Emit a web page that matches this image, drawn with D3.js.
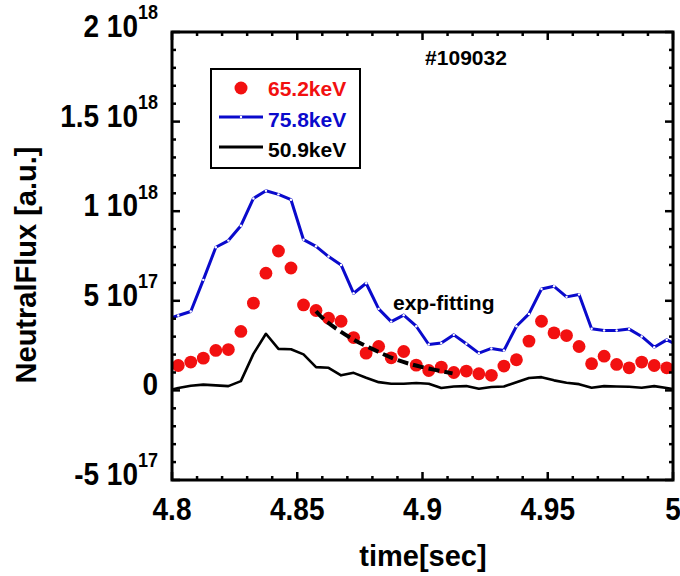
<!DOCTYPE html>
<html>
<head>
<meta charset="utf-8">
<script src="https://cdn.jsdelivr.net/npm/d3@7"></script>
<style>
  body { margin: 0; background: #fff; }
  text { font-family: "Liberation Sans", Arial, sans-serif; font-weight: bold; }
</style>
</head>
<body>
<div id="chart"></div>
<script>
// values in units of 1e17
var time = [4.7975, 4.8025, 4.8075, 4.8125, 4.8175, 4.8225, 4.8275, 4.8325, 4.8375, 4.8425,
            4.8475, 4.8525, 4.8575, 4.8625, 4.8675, 4.8725, 4.8775, 4.8825, 4.8875, 4.8925,
            4.8975, 4.9025, 4.9075, 4.9125, 4.9175, 4.9225, 4.9275, 4.9325, 4.9375, 4.9425,
            4.9475, 4.9525, 4.9575, 4.9625, 4.9675, 4.9725, 4.9775, 4.9825, 4.9875, 4.9925,
            4.9975, 5.0025];
var flux652 = [null, 1.39, 1.58, 1.80, 2.23, 2.28, 3.29, 4.87, 6.54, 7.78,
               6.83, 4.77, 4.46, 4.03, 3.86, 2.95, 2.08, 2.45, 1.82, 2.17,
               1.41, 1.11, 1.30, 1.00, 1.08, 0.93, 0.84, 1.36, 1.71, 2.75,
               3.86, 3.21, 3.06, 2.45, 1.49, 1.91, 1.45, 1.26, 1.58, 1.39,
               1.26, null];
var flux758 = [3.95, 4.18, 4.40, 6.17, 7.99, 8.36, 9.19, 10.71, 11.14, 10.94,
               10.64, 8.41, 8.04, 7.47, 7.00, 5.42, 5.98, 4.55, 3.84, 4.20,
               3.58, 2.56, 2.64, 3.10, 2.60, 2.08, 2.34, 2.23, 3.58, 4.27,
               5.66, 5.81, 5.22, 5.35, 3.44, 3.34, 3.34, 3.42, 3.01, 2.41,
               2.82, 2.48];
var flux509 = [-0.05, 0.13, 0.26, 0.32, 0.28, 0.24, 0.52, 2.04, 3.16, 2.32,
               2.30, 2.01, 1.30, 1.26, 0.84, 0.98, 0.71, 0.46, 0.37, 0.37,
               0.41, 0.37, 0.13, 0.22, 0.24, 0.09, 0.19, 0.22, 0.46, 0.69,
               0.74, 0.56, 0.43, 0.35, 0.15, 0.24, 0.22, 0.20, 0.15, 0.24,
               0.13, 0.02];
var fitTime = [4.8575, 4.8612, 4.8719, 4.8812, 4.8905, 4.8999, 4.912];
var fitFlux = [4.42, 3.90, 2.88, 2.23, 1.67, 1.30, 0.95];

var xTicks = [4.8, 4.85, 4.9, 4.95, 5];
var xTickLabels = ["4.8", "4.85", "4.9", "4.95", "5"];
var yTicks = [-5, 0, 5, 10, 15, 20];
var yTickMain = ["-5 10", "0", "5 10", "1 10", "1.5 10", "2 10"];
var yTickExp = ["17", "", "17", "18", "18", "18"];
var legendNames = ["65.2keV", "75.8keV", "50.9keV"];

var W = 680, H = 576;
var pL = 172, pR = 673, pT = 32, pB = 480;
var red = "#f21010", blue = "#0a0acc";

var svg = d3.select("#chart").append("svg")
    .attr("width", W).attr("height", H);

var x = d3.scaleLinear().domain([4.8, 5]).range([pL, pR]);
var y = d3.scaleLinear().domain([-5, 20]).range([pB, pT]);

svg.append("clipPath").attr("id", "plotclip")
  .append("rect")
    .attr("x", pL).attr("y", pT)
    .attr("width", pR - pL).attr("height", pB - pT);

var plot = svg.append("g").attr("clip-path", "url(#plotclip)");

var pts = function(vals) {
    return time.map(function(t, i) { return [t, vals[i]]; });
};
var line = d3.line()
    .defined(function(d) { return d[1] != null; })
    .x(function(d) { return x(d[0]); })
    .y(function(d) { return y(d[1]); });

// blue with tiny open markers
plot.append("path").datum(pts(flux758))
    .attr("d", line).attr("fill", "none")
    .attr("stroke", blue).attr("stroke-width", 3).attr("stroke-linejoin", "round");
plot.selectAll(".bm").data(pts(flux758)).enter()
  .append("circle").attr("class", "bm")
    .attr("cx", function(d) { return x(d[0]); })
    .attr("cy", function(d) { return y(d[1]); })
    .attr("r", 1.2).attr("fill", "#fff").attr("stroke", "none");

plot.append("path").datum(pts(flux509))
    .attr("d", line).attr("fill", "none")
    .attr("stroke", "#000").attr("stroke-width", 2.6).attr("stroke-linejoin", "round");

plot.selectAll(".rd").data(pts(flux652).filter(function(d) { return d[1] != null; })).enter()
  .append("circle").attr("class", "rd")
    .attr("cx", function(d) { return x(d[0]); })
    .attr("cy", function(d) { return y(d[1]); })
    .attr("r", 6.4).attr("fill", red);

var fitLine = d3.line().curve(d3.curveCatmullRom)
    .x(function(d) { return x(d[0]); })
    .y(function(d) { return y(d[1]); });
plot.append("path").datum(fitTime.map(function(t, i) { return [t, fitFlux[i]]; }))
    .attr("d", fitLine).attr("fill", "none")
    .attr("stroke", "#000").attr("stroke-width", 4)
    .attr("stroke-dasharray", "11,5");

// frame and inward ticks
svg.append("rect")
    .attr("x", pL).attr("y", pT)
    .attr("width", pR - pL).attr("height", pB - pT)
    .attr("fill", "none").attr("stroke", "#000").attr("stroke-width", 3);

var xMinor = d3.range(4.8, 5.0001, 0.01);
xMinor.forEach(function(v) {
    var major = Math.abs(Math.round(v * 20) - v * 20) < 1e-6;
    var len = major ? 8 : 4;
    svg.append("line").attr("x1", x(v)).attr("x2", x(v))
        .attr("y1", pB).attr("y2", pB - len)
        .attr("stroke", "#000").attr("stroke-width", 2.5);
    svg.append("line").attr("x1", x(v)).attr("x2", x(v))
        .attr("y1", pT).attr("y2", pT + len)
        .attr("stroke", "#000").attr("stroke-width", 2.5);
});
d3.range(-5, 20.001, 1).forEach(function(v) {
    var len = (v % 5 == 0) ? 8 : 4;
    svg.append("line").attr("x1", pL).attr("x2", pL + len)
        .attr("y1", y(v)).attr("y2", y(v))
        .attr("stroke", "#000").attr("stroke-width", 2.5);
    svg.append("line").attr("x1", pR).attr("x2", pR - len)
        .attr("y1", y(v)).attr("y2", y(v))
        .attr("stroke", "#000").attr("stroke-width", 2.5);
});

// tick labels (glyphs a little taller than wide, as in the original)
xTicks.forEach(function(v, i) {
    svg.append("text")
        .attr("transform", "translate(" + x(v) + ",520) scale(1,1.1)")
        .attr("text-anchor", "middle").attr("font-size", 28)
        .text(xTickLabels[i]);
});
yTicks.forEach(function(v, i) {
    var t = svg.append("text")
        .attr("transform", "translate(158," + (y(v) + 5) + ") scale(1,1.1)")
        .attr("text-anchor", "end").attr("font-size", 28);
    t.append("tspan").text(yTickMain[i]);
    if (yTickExp[i] != "") {
        t.append("tspan").attr("dy", -16).attr("font-size", 18).text(yTickExp[i]);
    }
});

svg.append("text").attr("x", 423).attr("y", 566)
    .attr("text-anchor", "middle").attr("font-size", 29)
    .text("time[sec]");
svg.append("text").attr("transform", "translate(36,265) rotate(-90)")
    .attr("text-anchor", "middle").attr("font-size", 29)
    .text("NeutralFlux [a.u.]");

svg.append("text").attr("x", 466).attr("y", 65)
    .attr("text-anchor", "middle").attr("font-size", 21)
    .text("#109032");
svg.append("text").attr("x", 393).attr("y", 310)
    .attr("font-size", 21).text("exp-fitting");

// legend
var lg = svg.append("g");
lg.append("rect").attr("x", 211).attr("y", 69).attr("width", 149).attr("height", 99)
    .attr("fill", "#fff").attr("stroke", "#000").attr("stroke-width", 2);
lg.append("circle").attr("cx", 241).attr("cy", 88).attr("r", 6.5).attr("fill", red);
lg.append("line").attr("x1", 219).attr("x2", 263).attr("y1", 117).attr("y2", 117)
    .attr("stroke", blue).attr("stroke-width", 3);
lg.append("circle").attr("cx", 241).attr("cy", 117).attr("r", 1.2).attr("fill", "#fff");
lg.append("line").attr("x1", 219).attr("x2", 263).attr("y1", 147).attr("y2", 147)
    .attr("stroke", "#000").attr("stroke-width", 3);
var legendColors = [red, blue, "#000"];
legendNames.forEach(function(n, i) {
    lg.append("text").attr("x", 268).attr("y", 96 + i * 30.5)
        .attr("font-size", 21).attr("fill", legendColors[i]).text(n);
});
</script>
</body>
</html>
